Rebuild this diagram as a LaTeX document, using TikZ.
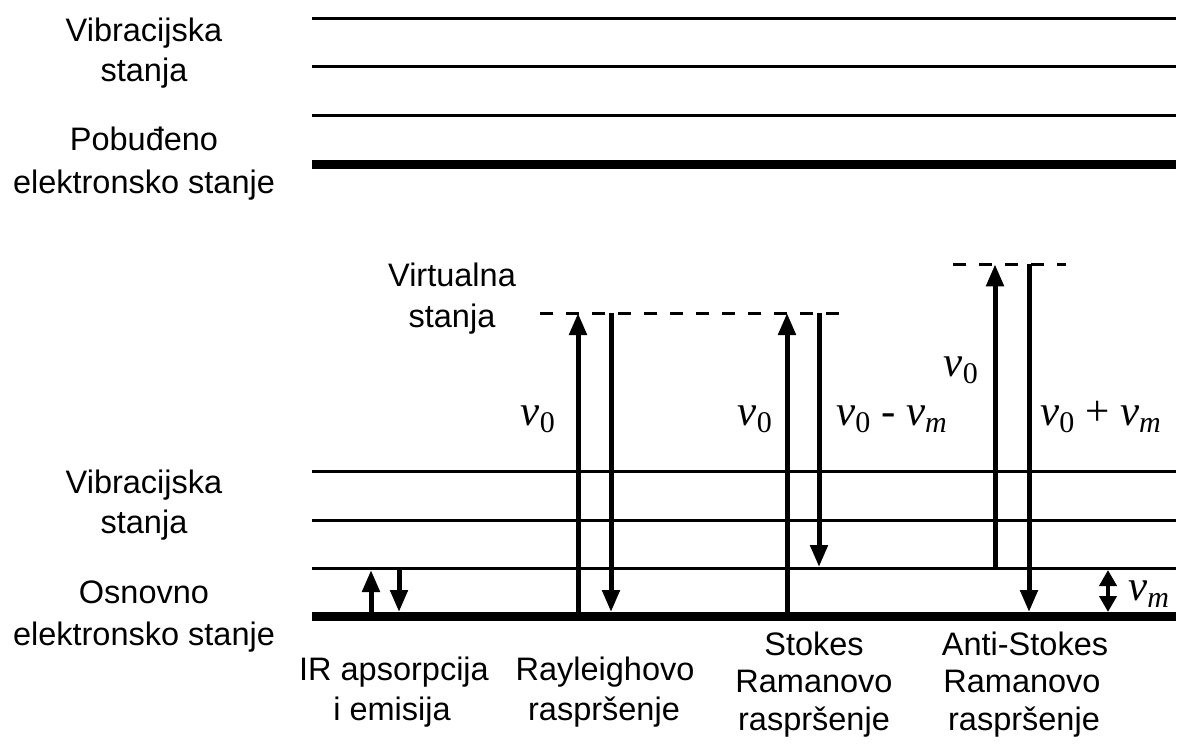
\documentclass[tikz,border=0pt]{standalone}
\usepackage{fontspec}
\setmainfont{Liberation Sans}
\newfontfamily\tms{Liberation Serif}
\usetikzlibrary{arrows.meta}
\newcommand{\fr}[1]{\textit{v}\raisebox{-7pt}{\fontsize{30}{30}\selectfont #1}}
\tikzset{
  lvl/.style={line width=3pt},
  ground/.style={line width=9pt},
  virt/.style={line width=3pt, dash pattern=on 13pt off 13pt},
  tr/.style={line width=5pt, -{Triangle[length=22pt,width=17pt]}},
  dbl/.style={line width=4.5pt, {Triangle[length=16pt,width=17pt]}-{Triangle[length=16pt,width=17pt]}},
  lbl/.style={font=\fontsize{32.5}{39}\selectfont, anchor=base, inner sep=0pt},
  mth/.style={font=\tms\fontsize{43}{43}\selectfont, inner sep=0pt},
}
\begin{document}
\begin{tikzpicture}[x=1pt,y=-1pt]
\useasboundingbox (0,0) rectangle (1178,747);
% upper levels
\coordinate (u1l) at (312,18.3);  \coordinate (u1r) at (1176,18.3);
\coordinate (u2l) at (312,66.8);  \coordinate (u2r) at (1176,66.8);
\coordinate (u3l) at (312,115.3); \coordinate (u3r) at (1176,115.3);
\coordinate (u4l) at (312,164);   \coordinate (u4r) at (1176,164);
\draw[lvl] (u1l) -- (u1r);
\draw[lvl] (u2l) -- (u2r);
\draw[lvl] (u3l) -- (u3r);
\draw[ground] (u4l) -- (u4r);
% lower levels
\coordinate (l1l) at (312,471.5); \coordinate (l1r) at (1176,471.5);
\coordinate (l2l) at (312,520);   \coordinate (l2r) at (1176,520);
\coordinate (l3l) at (312,568.5); \coordinate (l3r) at (1176,568.5);
\coordinate (l4l) at (312,616.7); \coordinate (l4r) at (1176,616.7);
\draw[lvl] (l1l) -- (l1r);
\draw[lvl] (l2l) -- (l2r);
\draw[lvl] (l3l) -- (l3r);
\draw[ground] (l4l) -- (l4r);
% virtual states
\coordinate (v1l) at (540,313); \coordinate (v1r) at (852,313);
\coordinate (v2l) at (953,264.3); \coordinate (v2r) at (1066,264.3);
\draw[virt] (v1l) -- (v1r);
\draw[virt] (v2l) -- (v2r);
% IR
\coordinate (ir1a) at (371,612); \coordinate (ir1b) at (371,570);
\coordinate (ir2a) at (399,568.5); \coordinate (ir2b) at (399,612);
\draw[tr] (ir1a) -- (ir1b);
\draw[tr] (ir2a) -- (ir2b);
% Rayleigh
\coordinate (ra1a) at (578,612); \coordinate (ra1b) at (578,313);
\coordinate (ra2a) at (611,313); \coordinate (ra2b) at (611,612);
\draw[tr] (ra1a) -- (ra1b);
\draw[tr] (ra2a) -- (ra2b);
% Stokes
\coordinate (st1a) at (787,612); \coordinate (st1b) at (787,313);
\coordinate (st2a) at (819,313); \coordinate (st2b) at (819,567);
\draw[tr] (st1a) -- (st1b);
\draw[tr] (st2a) -- (st2b);
% Anti-Stokes
\coordinate (as1a) at (995,568.5); \coordinate (as1b) at (995,264.3);
\coordinate (as2a) at (1029,264.3); \coordinate (as2b) at (1029,612);
\draw[tr] (as1a) -- (as1b);
\draw[tr] (as2a) -- (as2b);
% vm
\coordinate (vma) at (1108,570); \coordinate (vmb) at (1108,612);
\draw[dbl] (vma) -- (vmb);
% left labels
\node[lbl] (t1) at (144,41) {Vibracijska};
\node[lbl] (t2) at (144,81) {stanja};
\node[lbl] (t3) at (144,150) {Pobuđeno};
\node[lbl] (t4) at (144,193) {elektronsko stanje};
\node[lbl] (b1) at (144,493) {Vibracijska};
\node[lbl] (b2) at (144,533) {stanja};
\node[lbl] (b3) at (144,603) {Osnovno};
\node[lbl] (b4) at (144,645) {elektronsko stanje};
\node[lbl] (vs1) at (452,286) {Virtualna};
\node[lbl] (vs2) at (452,327) {stanja};
% bottom labels
\node[lbl] (ir1) at (394,680) {IR apsorpcija};
\node[lbl] (ir2) at (392,720) {i emisija};
\node[lbl] (ry1) at (605,680) {Rayleighovo};
\node[lbl] (ry2) at (604,720) {raspršenje};
\node[lbl] (sk1) at (814,655) {Stokes};
\node[lbl] (sk2) at (814,692) {Ramanovo};
\node[lbl] (sk3) at (814,730) {raspršenje};
\node[lbl] (ak1) at (1025,655) {Anti-Stokes};
\node[lbl] (ak2) at (1022,692) {Ramanovo};
\node[lbl] (ak3) at (1024,730) {raspršenje};
% math labels
\node[mth, anchor=base east] (m1) at (555,425) {\fr{0}};
\node[mth, anchor=base east] (m2) at (772,425) {\fr{0}};
\node[mth, anchor=base west] (m3) at (836,425) {\fr{0} - \fr{\itshape m}};
\node[mth, anchor=base east] (m4) at (978,376) {\fr{0}};
\node[mth, anchor=base west] (m5) at (1040,425) {\fr{0} + \fr{\itshape m}};
\node[mth, anchor=base west] (m6) at (1128,600) {\fr{\itshape m}};
\end{tikzpicture}
\end{document}
